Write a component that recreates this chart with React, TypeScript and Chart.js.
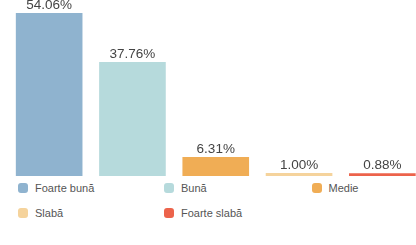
import React, { useEffect, useRef } from "react";
import { Chart, registerables } from "chart.js";

Chart.register(...registerables);

const categories = ["Foarte bună", "Bună", "Medie", "Slabă", "Foarte slabă"];
const values = [54.06, 37.76, 6.31, 1.0, 0.88];
const valueLabels = ["54.06%", "37.76%", "6.31%", "1.00%", "0.88%"];
const colors = ["#8fb3cf", "#b6dadc", "#f0ad55", "#f5d39c", "#ec634b"];

const FONT = "'Liberation Sans', Arial, Helvetica, sans-serif";

const valueLabelPlugin = {
  id: "valueLabels",
  afterDatasetsDraw(chart: any) {
    const ctx = chart.ctx;
    const meta = chart.getDatasetMeta(0);
    ctx.save();
    ctx.font = `13.5px ${FONT}`;
    ctx.fillStyle = "#444";
    ctx.textAlign = "center";
    ctx.textBaseline = "alphabetic";
    meta.data.forEach((el: any, i: number) => {
      ctx.fillText(valueLabels[i], el.x, el.y - 4);
    });
    ctx.restore();
  },
};

export default function App() {
  const ref = useRef<HTMLCanvasElement | null>(null);
  useEffect(() => {
    if (!ref.current) return;
    const chart = new Chart(ref.current, {
      type: "bar",
      data: {
        labels: categories,
        datasets: [
          {
            data: values,
            backgroundColor: colors,
            borderWidth: 0,
            barPercentage: 0.8,
            categoryPercentage: 1,
          },
        ],
      },
      options: {
        animation: false,
        responsive: false,
        maintainAspectRatio: false,
        layout: { padding: { left: 7.5, right: 0, top: 0, bottom: 0 } },
        plugins: {
          legend: { display: false },
          tooltip: { enabled: false },
        },
        scales: {
          x: {
            grid: { display: false, drawTicks: false },
            border: { display: true, color: "#d9d9d9", width: 1 },
            ticks: { display: false },
          },
          y: {
            display: false,
            min: 0,
            max: 58.33,
          },
        },
      },
      plugins: [valueLabelPlugin],
    });
    return () => chart.destroy();
  }, []);

  const cols = [18, 164, 311.5];
  const rows = [188, 213];

  return (
    <div
      style={{
        position: "fixed",
        left: 0,
        top: 0,
        width: 416,
        height: 245,
        overflow: "hidden",
        background: "#fff",
        fontFamily: FONT,
      }}
    >
      <canvas
        ref={ref}
        width={424}
        height={176}
        style={{ position: "absolute", left: 0, top: 0, width: 424, height: 176 }}
      />
      {categories.map((c, i) => {
        const col = i % 3;
        const row = Math.floor(i / 3);
        return (
          <div
            key={c}
            style={{
              position: "absolute",
              left: cols[col],
              top: rows[row] - 7,
              height: 14,
              display: "flex",
              alignItems: "center",
              whiteSpace: "nowrap",
            }}
          >
            <span
              style={{
                display: "inline-block",
                width: 10,
                height: 10,
                borderRadius: 3,
                background: colors[i],
                marginRight: 7,
              }}
            />
            <span style={{ fontSize: 11, color: "#555", lineHeight: "14px" }}>{c}</span>
          </div>
        );
      })}
    </div>
  );
}
